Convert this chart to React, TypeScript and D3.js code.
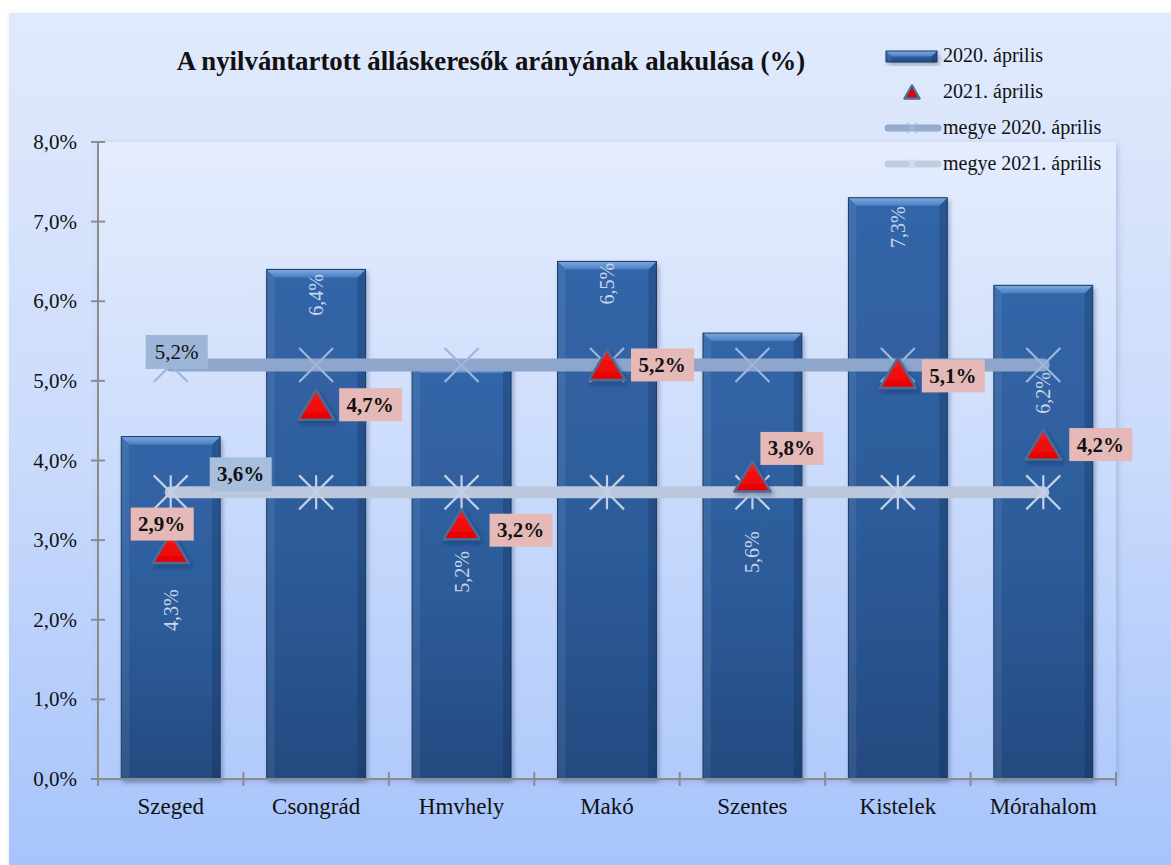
import React from 'react'
import { scaleBand, scaleLinear, line } from 'd3'

const categories = ['Szeged', 'Csongrád', 'Hmvhely', 'Makó', 'Szentes', 'Kistelek', 'Mórahalom']
const values2020 = [4.3, 6.4, 5.2, 6.5, 5.6, 7.3, 6.2]
const values2021 = [2.9, 4.7, 3.2, 5.2, 3.8, 5.1, 4.2]
const megye2020 = [5.2, 5.2, 5.2, 5.2, 5.2, 5.2, 5.2]
const megye2021 = [3.6, 3.6, 3.6, 3.6, 3.6, 3.6, 3.6]
const yTicks = [0, 1, 2, 3, 4, 5, 6, 7, 8]
const seriesNames = ['2020. április', '2021. április', 'megye 2020. április', 'megye 2021. április']
const title = 'A nyilvántartott álláskeresők arányának alakulása (%)'

// where the rotated bar labels sit, in axis units (they were dragged in the original)
const barLabelAt = [2.12, 6.08, 2.6, 6.22, 2.85, 6.93, 4.85]
// offsets of the red-point labels from their triangles, px
const triLabelOffset = [[-9, -24], [54, 0], [59, 6], [55, 0], [39, -28], [55, 3], [57, 0]]

const fmt = (v: number) => v.toFixed(1).replace('.', ',') + '%'
const FONT = '"Liberation Serif", "DejaVu Serif", serif'

const W = 1171
const H = 865
const plot = { left: 98, right: 1116, top: 142, bottom: 779 }

const x = scaleBand<string>()
  .domain(categories)
  .range([plot.left, plot.right])
  .paddingInner(0.32)
  .paddingOuter(0.16)
const y = scaleLinear().domain([0, 8]).range([plot.bottom, plot.top])
const cx = (i: number) => (x(categories[i]) as number) + x.bandwidth() / 2

const megyeLine = line<number>()
  .x((d, i) => cx(i))
  .y((d) => y(d))

const xMark = (s: number) => `M${-s},${-s}L${s},${s}M${s},${-s}L${-s},${s}`
const starMark = (s: number) => xMark(s) + `M0,${-s}L0,${s}`
const triPath = (px: number, py: number, w: number, h: number) =>
  `M${px},${py - h / 2}L${px + w / 2},${py + h / 2}L${px - w / 2},${py + h / 2}Z`

function Bar({ x0, y0, w, h }: { x0: number; y0: number; w: number; h: number }) {
  const b = Math.min(8, h / 2)
  const x1 = x0 + w
  const y1 = y0 + h
  return (
    <g>
      <rect x={x0} y={y0} width={w} height={h} fill="url(#barBody)" filter="url(#shadow)" />
      <polygon
        points={`${x0},${y0} ${x0 + b},${y0 + b} ${x0 + b},${y1} ${x0},${y1}`}
        fill="#ffffff"
        opacity={0.07}
      />
      <polygon
        points={`${x1},${y0} ${x1 - b},${y0 + b} ${x1 - b},${y1} ${x1},${y1}`}
        fill="#0b2547"
        opacity={0.25}
      />
      <polygon
        points={`${x0},${y0} ${x1},${y0} ${x1 - b},${y0 + b} ${x0 + b},${y0 + b}`}
        fill="url(#barTop)"
      />
      <rect x={x0} y={y0} width={w} height={h} fill="none" stroke="#1b3863" strokeWidth={1} />
    </g>
  )
}

export default function App() {
  const legendX = 886
  const legendY = [56, 92, 128, 164]
  return (
    <svg
      width={W}
      height={H}
      style={{ position: 'absolute', left: 0, top: 0, background: '#ffffff' }}
      fontFamily={FONT}
    >
      <defs>
        <linearGradient id="chartBg" x1="0" y1="0" x2="0" y2="1">
          <stop offset="0" stopColor="#e1eafc" />
          <stop offset="0.5" stopColor="#cbdbfb" />
          <stop offset="1" stopColor="#a6c3fb" />
        </linearGradient>
        <linearGradient id="plotBg" x1="0" y1="0" x2="0" y2="1">
          <stop offset="0" stopColor="#e5edfd" />
          <stop offset="1" stopColor="#b2cbfb" />
        </linearGradient>
        <linearGradient id="barBody" x1="0" y1="0" x2="0" y2="1">
          <stop offset="0" stopColor="#3366a8" />
          <stop offset="0.6" stopColor="#2c5a98" />
          <stop offset="1" stopColor="#244a80" />
        </linearGradient>
        <linearGradient id="barTop" x1="0" y1="0" x2="0" y2="1">
          <stop offset="0" stopColor="#7eaae3" />
          <stop offset="1" stopColor="#4a7fc2" />
        </linearGradient>
        <linearGradient id="triFill" x1="0" y1="0" x2="0" y2="1">
          <stop offset="0" stopColor="#ff1a1a" />
          <stop offset="1" stopColor="#e60000" />
        </linearGradient>
        <filter id="shadow" x="-20%" y="-20%" width="150%" height="150%">
          <feDropShadow dx="2" dy="3" stdDeviation="2.5" floodColor="#0a1e40" floodOpacity="0.35" />
        </filter>
        <filter id="softShadow" x="-5%" y="-5%" width="110%" height="110%">
          <feDropShadow dx="2" dy="2" stdDeviation="3" floodColor="#5a6f99" floodOpacity="0.3" />
        </filter>
      </defs>

      <rect x={9} y={13} width={W} height={H} fill="url(#chartBg)" filter="url(#softShadow)" />
      <rect
        x={plot.left}
        y={plot.top}
        width={plot.right - plot.left}
        height={plot.bottom - plot.top}
        fill="url(#plotBg)"
        filter="url(#softShadow)"
      />

      <text x={491} y={70} textAnchor="middle" fontSize={26.8} fontWeight="bold" fill="#111">
        {title}
      </text>

      {/* y axis */}
      <line x1={plot.left} x2={plot.left} y1={plot.top} y2={plot.bottom + 7} stroke="#8c8c8c" strokeWidth={2} />
      {yTicks.map((t) => (
        <g key={t}>
          <line x1={plot.left - 7} x2={plot.left + 7} y1={y(t)} y2={y(t)} stroke="#8c8c8c" strokeWidth={2} />
          <text x={77} y={y(t) + 7} textAnchor="end" fontSize={21} fill="#111">
            {fmt(t)}
          </text>
        </g>
      ))}

      {/* bars */}
      {values2020.map((v, i) => (
        <Bar key={i} x0={x(categories[i]) as number} y0={y(v)} w={x.bandwidth()} h={y(0) - y(v)} />
      ))}

      {/* x axis */}
      <line x1={plot.left} x2={plot.right} y1={plot.bottom} y2={plot.bottom} stroke="#8c8c8c" strokeWidth={2} />
      {categories.map((c, i) => {
        const bx = plot.left + x.step() * (i + 1)
        return (
          <g key={c}>
            <line x1={bx} x2={bx} y1={plot.bottom - 7} y2={plot.bottom + 7} stroke="#8c8c8c" strokeWidth={2} />
            <text x={cx(i)} y={plot.bottom + 35} textAnchor="middle" fontSize={23} fill="#111">
              {c}
            </text>
          </g>
        )
      })}

      {/* bar value labels */}
      {values2020.map((v, i) => (
        <text
          key={i}
          transform={`translate(${cx(i) + 7},${y(barLabelAt[i])}) rotate(-90)`}
          textAnchor="middle"
          fontSize={20}
          fill="#c9d6ec"
        >
          {fmt(v)}
        </text>
      ))}

      {/* county averages */}
      <path d={megyeLine(megye2020) || ''} fill="none" stroke="#8fa6cc" strokeWidth={13} strokeLinecap="round" />
      {megye2020.map((v, i) => (
        <path
          key={i}
          d={xMark(17)}
          transform={`translate(${cx(i)},${y(v)})`}
          stroke="#9fb5da"
          strokeWidth={2.2}
          fill="none"
        />
      ))}
      <path d={megyeLine(megye2021) || ''} fill="none" stroke="#bac7dd" strokeWidth={12} strokeLinecap="round" />
      {megye2021.map((v, i) => (
        <path
          key={i}
          d={starMark(17)}
          transform={`translate(${cx(i)},${y(v)})`}
          stroke="#c3d0e7"
          strokeWidth={2.2}
          fill="none"
        />
      ))}

      {/* 2021 points */}
      {values2021.map((v, i) => (
        <path
          key={i}
          d={triPath(cx(i), y(v), 36, 30)}
          fill="url(#triFill)"
          stroke="#4f6b94"
          strokeWidth={2.5}
          strokeLinejoin="round"
          filter="url(#shadow)"
        />
      ))}

      {/* data label boxes */}
      <g>
        <rect x={cx(0) + 6 - 31} y={y(megye2020[0]) - 13 - 17} width={62} height={34} fill="#9db6d8" />
        <text x={cx(0) + 6} y={y(megye2020[0]) - 13 + 7} textAnchor="middle" fontSize={21} fill="#111">
          {fmt(megye2020[0])}
        </text>
        <rect x={cx(0) + 70 - 31} y={y(megye2021[0]) - 18 - 17} width={62} height={34} fill="#a8bedd" />
        <text
          x={cx(0) + 70}
          y={y(megye2021[0]) - 18 + 7}
          textAnchor="middle"
          fontSize={21}
          fontWeight="bold"
          fill="#111"
        >
          {fmt(megye2021[0])}
        </text>
      </g>
      {values2021.map((v, i) => {
        const lx = cx(i) + triLabelOffset[i][0]
        const ly = y(v) + triLabelOffset[i][1]
        return (
          <g key={i}>
            <rect x={lx - 31} y={ly - 16.5} width={63} height={33} fill="#e6b9b9" />
            <text x={lx} y={ly + 7} textAnchor="middle" fontSize={21} fontWeight="bold" fill="#111">
              {fmt(v)}
            </text>
          </g>
        )
      })}

      {/* legend */}
      <g fontSize={20} fill="#111">
        <Bar x0={legendX} y0={legendY[0] - 5} w={51} h={11} />
        <path
          d={triPath(legendX + 26, legendY[1], 15, 13)}
          fill="#e00000"
          stroke="#4f6b94"
          strokeWidth={2.5}
          strokeLinejoin="round"
        />
        <line x1={legendX + 2} x2={legendX + 52} y1={legendY[2]} y2={legendY[2]} stroke="#94aad0" strokeWidth={7} strokeLinecap="round" />
        <path d={xMark(5)} transform={`translate(${legendX + 26},${legendY[2]})`} stroke="#a9bedf" strokeWidth={1.5} />
        <line x1={legendX + 2} x2={legendX + 52} y1={legendY[3]} y2={legendY[3]} stroke="#c2cce0" strokeWidth={7} strokeLinecap="round" />
        <path d={starMark(5)} transform={`translate(${legendX + 26},${legendY[3]})`} stroke="#d3dcee" strokeWidth={1.5} />
        {seriesNames.map((s, i) => (
          <text key={s} x={legendX + 57} y={legendY[i] + 6}>
            {s}
          </text>
        ))}
      </g>
    </svg>
  )
}
